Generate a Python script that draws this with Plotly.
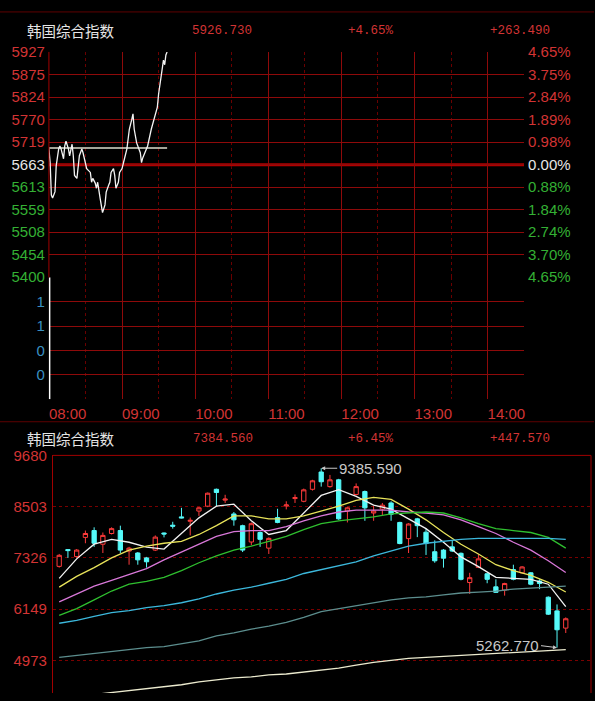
import plotly.graph_objects as go

# ---------------- data: intraday (top panel) ----------------
prev_close = 5663.24
max_change = 263.49
intraday_minutes = [0, 1, 2, 3, 5, 6, 8, 9, 10, 12, 13, 14, 16, 17, 19, 20, 21, 23, 25, 27,
                    28, 29, 31, 34, 35, 36, 38, 39, 40, 42, 43, 44, 46, 47, 49, 50, 51, 53, 54, 55,
                    57, 58, 60, 61, 62, 64, 65, 66, 68, 69, 70, 72, 75, 76, 77, 80, 81, 84, 87, 89,
                    90, 92, 93, 94, 95, 96, 97]
intraday_price = [5700, 5668, 5592, 5585, 5600, 5661, 5700, 5707, 5700, 5677, 5707, 5718, 5700, 5684, 5711, 5684, 5638, 5631, 5684, 5700,
                  5691, 5677, 5654, 5645, 5622, 5631, 5620, 5608, 5622, 5585, 5562, 5551, 5569, 5599, 5615, 5622, 5645, 5654, 5638, 5608,
                  5622, 5645, 5654, 5668, 5677, 5700, 5730, 5746, 5769, 5782, 5746, 5714, 5691, 5668, 5679, 5700, 5707, 5746, 5776, 5798,
                  5828, 5867, 5890, 5908, 5897, 5920, 5926.73]
avg_minutes = [0, 97]
avg_price = [5702.2, 5702.2]
price_tick_labels = ["5927", "5875", "5824", "5770", "5719", "5663", "5613", "5559", "5508", "5454", "5400"]
pct_tick_labels = ["4.65%", "3.75%", "2.84%", "1.89%", "0.98%", "0.00%", "0.88%", "1.84%", "2.74%", "3.70%", "4.65%"]
time_tick_labels = ["08:00", "09:00", "10:00", "11:00", "12:00", "13:00", "14:00"]
volume_minutes = [0]
volume_values = [5]
volume_tick_labels = ["0", "0", "1", "1"]

# ---------------- data: daily candles (bottom panel) ----------------
day_index = list(range(59))
opens = [7131, 7516, 7355, 7797, 7954, 7640, 7886, 7954, 7483, 7438, 7326, 7505, 7898, 8077, 8268, 8167, 8402, 8514, 8902, 8653,
         8335, 8066, 7691, 7909, 7550, 8252, 8519, 8689, 8626, 8902, 9299, 8963, 9120, 8402, 8783, 8850, 8357, 8447, 8588, 8140,
         7768, 8223, 7916, 7467, 7505, 7579, 7431, 6759, 7108, 6960, 6660, 6586, 7057, 6983, 6983, 6795, 6422, 6108, 5712]
highs = [7416, 7528, 7528, 7954, 8028, 7909, 8028, 8066, 7579, 7460, 7348, 7842, 7909, 8155, 8476, 8252, 8492, 8828, 8918, 8776,
         8380, 8088, 8140, 7931, 7797, 8454, 8626, 8783, 8918, 9120, 9385.59, 9232, 9142, 8492, 9037, 8873, 8514, 8588, 8626, 8155,
         8122, 8245, 7998, 7729, 7528, 7729, 7449, 6983, 7409, 6978, 6833, 6754, 7169, 7135, 7001, 6833, 6440, 6256, 5958]
lows = [7102, 7326, 7326, 7662, 7579, 7438, 7864, 7438, 7169, 7169, 7102, 7483, 7797, 7998, 8234, 7842, 8290, 8492, 8514, 8588,
        8066, 7460, 7617, 7579, 7416, 8122, 8440, 8588, 8604, 8873, 8963, 8940, 8200, 8140, 8761, 8178, 8178, 8290, 8178, 7640,
        7438, 7803, 7393, 7214, 7102, 7460, 6810, 6496, 7091, 6743, 6519, 6458, 6810, 6967, 6698, 6608, 6014, 5262.77, 5600]
closes = [7384.56, 7494, 7505, 7886, 7662, 7842, 7998, 7505, 7550, 7281, 7236, 7803, 7875, 8055, 8245, 8189, 8476, 8812, 8828, 8676,
          8200, 7505, 8111, 7752, 7774, 8140, 8541, 8711, 8889, 9097, 9075, 9120, 8223, 8476, 8963, 8476, 8402, 8537, 8328, 7655,
          8104, 8066, 7655, 7259, 7319, 7483, 6833, 6871, 7303, 6833, 6534, 6736, 6833, 7117, 6721, 6736, 6032, 5674, 5926.73]
daily_tick_values = [9680, 8503, 7326, 6149, 4973]
high_label = "9385.590"
low_label = "5262.770"

ma_index = list(range(0, 59, 2))
ma5 = [6855, 7303, 7640, 7752, 7685, 7573, 7528, 7886, 8245, 8514, 8559, 8178, 7864, 7954, 8357,
       8761, 8895, 8738, 8537, 8447, 8223, 7998, 7685, 7348, 7124, 6878, 6855, 6833, 6721, 6205]
ma10 = [6653, 6900, 7102, 7326, 7505, 7595, 7662, 7707, 7864, 8066, 8290, 8290, 8223, 8223, 8290,
        8402, 8514, 8649, 8716, 8671, 8447, 8200, 7909, 7640, 7416, 7169, 7034, 6922, 6765, 6541]
ma20 = [6317, 6496, 6676, 6810, 6945, 7079, 7281, 7460, 7640, 7819, 7931, 7954, 7954, 8043, 8178,
        8290, 8380, 8425, 8425, 8425, 8380, 8357, 8312, 8200, 8043, 7886, 7685, 7505, 7259, 6990]
ma30 = [6003, 6160, 6362, 6564, 6721, 6788, 6878, 7034, 7214, 7371, 7505, 7595, 7707, 7819, 7976,
        8111, 8178, 8223, 8268, 8335, 8357, 8380, 8357, 8245, 8111, 7998, 7954, 7909, 7797, 7550]
ma60 = [5824, 5891, 5981, 6070, 6115, 6182, 6227, 6295, 6384, 6496, 6586, 6653, 6743, 6833, 6967,
        7057, 7147, 7236, 7371, 7483, 7595, 7662, 7707, 7752, 7774, 7774, 7774, 7774, 7774, 7752]
ma120 = [5039, 5084, 5129, 5174, 5218, 5263, 5286, 5353, 5420, 5532, 5600, 5689, 5757, 5846, 5958,
         6093, 6160, 6227, 6295, 6362, 6407, 6429, 6474, 6519, 6541, 6564, 6608, 6631, 6653, 6676]
ma250 = [4097, 4142, 4187, 4232, 4277, 4322, 4367, 4411, 4479, 4523, 4568, 4591, 4636, 4658, 4703,
         4748, 4792, 4860, 4927, 4972, 5017, 5039, 5061, 5084, 5106, 5129, 5151, 5174, 5196, 5218]
ma_series = [
    ("MA5", ma5, "#f2f2f2"),
    ("MA10", ma10, "#e8e35a"),
    ("MA20", ma20, "#d877d8"),
    ("MA30", ma30, "#2fbf2f"),
    ("MA60", ma60, "#3cb8dc"),
    ("MA120", ma120, "#5c8e8e"),
    ("MA250", ma250, "#ecebcf"),
]

# ---------------- styling ----------------
W, H = 595, 701
RED = "#d23434"
GREEN = "#34b034"
WHITE = "#e6e6e6"
BLUE = "#3a90c2"
GRID = "#8e0a0a"
SANS = "Liberation Sans, Arial, sans-serif"
MONO = "Liberation Mono, monospace"
CJK = "Noto Sans CJK SC, sans-serif"


def px_x(x):
    return x / W


def px_y(y):
    return 1 - y / H


price_ticks = [prev_close + max_change * (5 - k) / 5 for k in range(11)]
label_colors = [RED] * 5 + [WHITE] + [GREEN] * 5
price_text = [f'<span style="color:{c}">{t}</span>' for t, c in zip(price_tick_labels, label_colors)]
pct_text = [f'<span style="color:{c}">{t}</span>' for t, c in zip(pct_tick_labels, label_colors)]
hours = [0, 60, 120, 180, 240, 300, 360]
half_hours = [30, 90, 150, 210, 270, 330]

fig = go.Figure()

# intraday price + average line
fig.add_trace(go.Scatter(x=avg_minutes, y=avg_price, mode="lines",
                         line=dict(color="#dcdccc", width=1.5), xaxis="x", yaxis="y", hoverinfo="skip"))
fig.add_trace(go.Scatter(x=intraday_minutes, y=intraday_price, mode="lines",
                         line=dict(color="#f4f4f4", width=1.3), xaxis="x", yaxis="y"))
# dummy for right percent axis
fig.add_trace(go.Scatter(x=[None], y=[None], xaxis="x", yaxis="y4", showlegend=False))
# volume
fig.add_trace(go.Bar(x=volume_minutes, y=volume_values, width=2.4, marker=dict(color="#ffffff", line=dict(width=0)),
                     xaxis="x2", yaxis="y2"))

# daily candles
fig.add_trace(go.Candlestick(
    x=day_index, open=opens, high=highs, low=lows, close=closes,
    increasing=dict(line=dict(color="#ff3b3b", width=1), fillcolor="#000000"),
    decreasing=dict(line=dict(color="#55fafa", width=1), fillcolor="#55fafa"),
    whiskerwidth=0, xaxis="x3", yaxis="y3"))
for name, vals, col in ma_series:
    fig.add_trace(go.Scatter(x=ma_index, y=vals, mode="lines", name=name,
                             line=dict(color=col, width=1.3), xaxis="x3", yaxis="y3"))

axis_common = dict(zeroline=False, showline=False, ticks="", fixedrange=True)

fig.update_layout(
    width=W, height=H, margin=dict(l=0, r=0, t=0, b=0),
    paper_bgcolor="#000000", plot_bgcolor="#000000", showlegend=False,
    xaxis=dict(domain=[px_x(49), px_x(525)], range=[0, 390], anchor="y",
               tickvals=hours, showticklabels=False, showgrid=True, gridcolor=GRID, gridwidth=1,
               minor=dict(tickvals=half_hours, showgrid=True, gridcolor="#6a0000", griddash="dot", gridwidth=1),
               **axis_common),
    yaxis=dict(domain=[px_y(275), px_y(44)], range=[prev_close - max_change - 0.3, prev_close + max_change + 0.3],
               anchor="x", tickvals=price_ticks, ticktext=price_text, showgrid=True, gridcolor=GRID,
               tickfont=dict(family=SANS, size=15, color=RED), ticklabelstandoff=3, **axis_common),
    yaxis4=dict(overlaying="y", side="right", anchor="x", range=[prev_close - max_change - 0.3, prev_close + max_change + 0.3],
                tickvals=price_ticks, ticktext=pct_text, showgrid=False,
                tickfont=dict(family=SANS, size=15, color=RED), ticklabelstandoff=3, **axis_common),
    xaxis2=dict(domain=[px_x(49), px_x(525)], range=[0, 390], anchor="y2", matches="x",
                tickvals=hours, ticktext=time_tick_labels, ticklabelposition="outside right",
                tickfont=dict(family=SANS, size=15, color=RED), showgrid=True, gridcolor=GRID,
                minor=dict(tickvals=half_hours, showgrid=True, gridcolor="#6a0000", griddash="dot", gridwidth=1),
                ticklabelstandoff=4, **axis_common),
    yaxis2=dict(domain=[px_y(400), px_y(275)], range=[0, 5], anchor="x2",
                tickvals=[1, 2, 3, 4], ticktext=volume_tick_labels, showgrid=True, gridcolor=GRID,
                tickfont=dict(family=SANS, size=15, color=BLUE), ticklabelstandoff=3, **axis_common),
    xaxis3=dict(domain=[px_x(53), px_x(592)], range=[-0.72, 60.89], anchor="y3",
                showticklabels=False, showgrid=False, rangeslider=dict(visible=False), **axis_common),
    yaxis3=dict(domain=[0, px_y(457.5)], range=[4221, 9680.6], anchor="x3",
                tickvals=daily_tick_values, ticktext=[str(v) for v in daily_tick_values],
                showgrid=True, gridcolor="#7a0000", griddash="dot", gridwidth=1,
                tickfont=dict(family=SANS, size=15, color=RED), ticklabelstandoff=2,
                zeroline=False, ticks="", fixedrange=True, showline=True, linecolor="#a00000", linewidth=1),
)

shapes = [
    dict(type="line", xref="paper", yref="paper", x0=0, x1=1, y0=px_y(3), y1=px_y(3), line=dict(color="#5e0000", width=1)),
    dict(type="line", xref="paper", yref="paper", x0=0, x1=1, y0=px_y(423), y1=px_y(423), line=dict(color="#5e0000", width=1)),
    dict(type="line", xref="paper", yref="paper", x0=px_x(53), x1=px_x(592), y0=px_y(457.5), y1=px_y(457.5),
         line=dict(color="#a00000", width=1)),
    dict(type="line", xref="paper", yref="paper", x0=px_x(592), x1=px_x(592), y0=0, y1=px_y(457.5),
         line=dict(color="#a00000", width=1)),
    dict(type="line", xref="x", yref="y", x0=0, x1=390, y0=prev_close, y1=prev_close,
         line=dict(color="#b00000", width=3), layer="below"),
    dict(type="line", xref="paper", yref="paper", x0=px_x(49), x1=px_x(49), y0=px_y(275), y1=px_y(44),
         line=dict(color="#a00000", width=1)),
]
fig.update_layout(shapes=shapes)

annotations = []


def header(text, x, y, color, family, size):
    annotations.append(dict(text=text, xref="paper", yref="paper", x=px_x(x), y=px_y(y),
                            xanchor="left", yanchor="middle", showarrow=False,
                            font=dict(family=family, size=size, color=color)))


header("韩国综合指数", 25, 22, WHITE, CJK, 14.5)
header("5926.730", 190, 23, RED, MONO, 12.5)
header("+4.65%", 347, 23, RED, MONO, 12.5)
header("+263.490", 489, 23, RED, MONO, 12.5)
header("韩国综合指数", 25, 440, WHITE, CJK, 14.5)
header("7384.560", 191, 441, RED, MONO, 12.5)
header("+6.45%", 347, 441, RED, MONO, 12.5)
header("+447.570", 489, 441, RED, MONO, 12.5)

annotations.append(dict(text=high_label, x=30, y=highs[30], xref="x3", yref="y3", showarrow=True,
                        ax=16, ay=0, xanchor="left", arrowhead=2, arrowsize=0.8, arrowwidth=1,
                        arrowcolor="#c8c8c8", font=dict(family=SANS, size=15, color="#c8c8c8")))
annotations.append(dict(text=low_label, x=57, y=lows[57], xref="x3", yref="y3", showarrow=True,
                        ax=-16, ay=-2, xanchor="right", arrowhead=2, arrowsize=0.8, arrowwidth=1,
                        arrowcolor="#c8c8c8", font=dict(family=SANS, size=15, color="#c8c8c8")))
fig.update_layout(annotations=annotations)

fig.write_html("out.html",
               config={"displayModeBar": False},
               post_script="document.body.style.margin='0';document.body.style.overflow='hidden';"
                           "document.body.style.background='#000';")
